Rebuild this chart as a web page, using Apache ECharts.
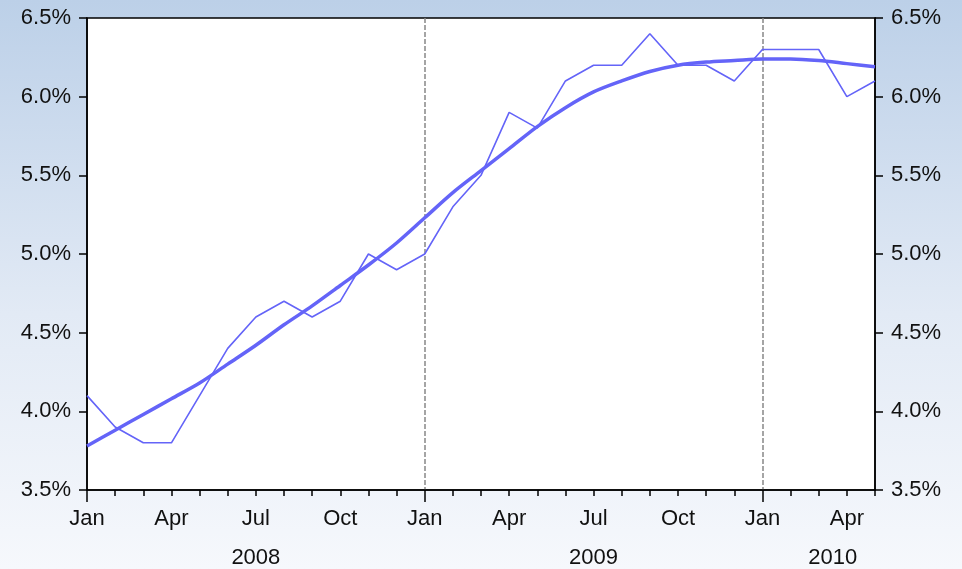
<!DOCTYPE html>
<html>
<head>
<meta charset="utf-8">
<script src="https://cdn.jsdelivr.net/npm/echarts@6/dist/echarts.min.js"></script>
<style>
  html, body { margin: 0; padding: 0; }
  #chart { width: 962px; height: 569px; }
</style>
</head>
<body>
<div id="chart"></div>
<script>
  // month labels, Jan 2008 .. May 2010
  const monthLabels = [
    'Jan', 'Feb', 'Mar', 'Apr', 'May', 'Jun', 'Jul', 'Aug', 'Sep', 'Oct', 'Nov', 'Dec',
    'Jan', 'Feb', 'Mar', 'Apr', 'May', 'Jun', 'Jul', 'Aug', 'Sep', 'Oct', 'Nov', 'Dec',
    'Jan', 'Feb', 'Mar', 'Apr', 'May',
  ]
  const years = ['2008', '2009', '2010']
  const monthsPerYear = [12, 12, 5]
  const shownMonths = ['Jan', 'Apr', 'Jul', 'Oct']

  // monthly rate (%)
  const rate = [
    4.1, 3.9, 3.8, 3.8, 4.1, 4.4, 4.6, 4.7, 4.6, 4.7, 5.0, 4.9,
    5.0, 5.3, 5.5, 5.9, 5.8, 6.1, 6.2, 6.2, 6.4, 6.2, 6.2, 6.1,
    6.3, 6.3, 6.3, 6.0, 6.1,
  ]
  // smoothed trend (%)
  const trend = [
    3.78, 3.88, 3.98, 4.08, 4.18, 4.30, 4.42, 4.55, 4.67, 4.80, 4.93, 5.07,
    5.23, 5.39, 5.53, 5.67, 5.81, 5.93, 6.03, 6.10, 6.16, 6.20, 6.22, 6.23,
    6.24, 6.24, 6.23, 6.21, 6.19,
  ]
  const yTicks = [3.5, 4.0, 4.5, 5.0, 5.5, 6.0, 6.5]

  // year label centres, from the month counts
  const yearPos = {}
  let start = 0
  years.forEach((y, i) => {
    yearPos[start + monthsPerYear[i] / 2] = y
    start += monthsPerYear[i]
  })
  const lastIndex = monthLabels.length - 1

  const font = { fontFamily: 'Liberation Sans, Arial, sans-serif', fontSize: 22, color: '#111' }
  const lineColor = '#6464F8'

  const yAxisBase = {
    type: 'value',
    min: yTicks[0],
    max: yTicks[yTicks.length - 1],
    interval: 0.5,
    axisLine: { show: true, lineStyle: { color: '#000', width: 1.5 } },
    axisTick: { show: true, inside: false, length: 8, lineStyle: { color: '#000', width: 1.5 } },
    axisLabel: Object.assign({ margin: 16, formatter: (v) => v.toFixed(1) + '%' }, font),
    splitLine: { show: false },
  }

  const chart = echarts.init(document.getElementById('chart'))
  chart.setOption({
    animation: false,
    backgroundColor: {
      type: 'linear', x: 0, y: 0, x2: 0, y2: 1,
      colorStops: [
        { offset: 0, color: '#BCD0E8' },
        { offset: 0.55, color: '#E2EAF5' },
        { offset: 1, color: '#F6F8FC' },
      ],
    },
    grid: {
      left: 87, right: 87, top: 18, bottom: 79,
      show: true, backgroundColor: '#fff', borderColor: '#000', borderWidth: 1.5,
    },
    xAxis: [
      {
        // month ticks + labels
        type: 'category',
        data: monthLabels,
        boundaryGap: false,
        axisLine: { show: true, onZero: false, lineStyle: { color: '#000', width: 1.5 } },
        axisTick: { show: true, interval: 0, length: 6, lineStyle: { color: '#000', width: 1.5 } },
        axisLabel: Object.assign({
          margin: 18,
          interval: (i, v) => i === 0 || shownMonths.includes(v) && i % 3 === 0,
        }, font),
        splitLine: {
          show: true,
          interval: (i, v) => v === 'Jan' && i > 0,
          lineStyle: { color: '#888', width: 1.5, type: [5, 2] },
        },
      },
      {
        // long ticks at January
        type: 'category',
        data: monthLabels,
        boundaryGap: false,
        position: 'bottom',
        axisLine: { show: false },
        axisTick: { show: true, interval: (i, v) => v === 'Jan', length: 12, lineStyle: { color: '#000', width: 1.5 } },
        axisLabel: { show: false },
        splitLine: { show: false },
      },
      {
        // year labels
        type: 'value',
        min: 0,
        max: lastIndex,
        interval: 0.5,
        position: 'bottom',
        axisLine: { show: false },
        axisTick: { show: false },
        axisLabel: Object.assign({
          margin: 57,
          showMinLabel: true,
          showMaxLabel: true,
          formatter: (v) => yearPos[v] || '',
        }, font),
        splitLine: { show: false },
      },
    ],
    yAxis: [
      Object.assign({ position: 'left' }, yAxisBase),
      Object.assign({ position: 'right' }, yAxisBase),
    ],
    series: [
      {
        name: 'Rate',
        type: 'line',
        data: rate,
        symbol: 'none',
        lineStyle: { color: lineColor, width: 1.6 },
        z: 3,
      },
      {
        name: 'Trend',
        type: 'line',
        data: trend,
        symbol: 'none',
        smooth: 0.3,
        lineStyle: { color: lineColor, width: 3.5 },
        z: 4,
      },
    ],
  })
</script>
</body>
</html>
